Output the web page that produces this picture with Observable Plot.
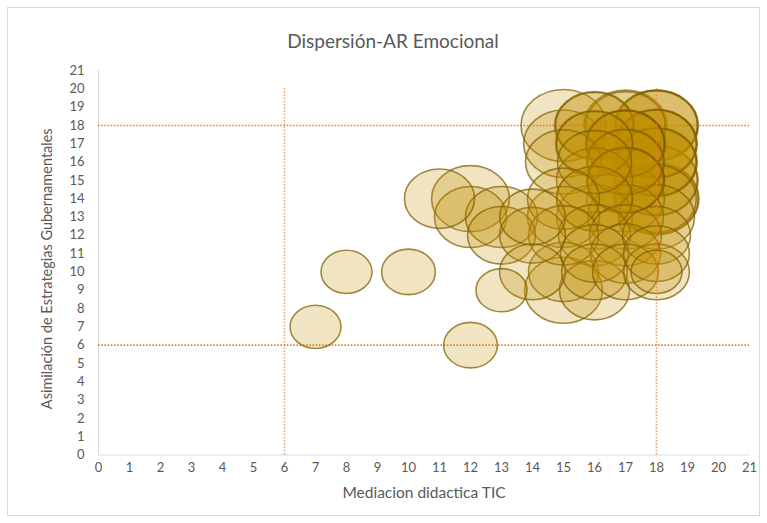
<!DOCTYPE html>
<html>
<head>
<meta charset="utf-8">
<script src="https://cdn.jsdelivr.net/npm/d3@7"></script>
<script src="https://cdn.jsdelivr.net/npm/@observablehq/plot@0.6"></script>
<style>
  html, body { margin: 0; padding: 0; background: #fff; }
  #wrap { position: relative; width: 767px; height: 523px; overflow: hidden; }
  #frame { position: absolute; left: 7px; top: 7px; width: 753px; height: 509px; border: 1px solid #d9d9d9; box-sizing: border-box; }
  #chart { position: absolute; left: 0; top: 0; }
</style>
</head>
<body>
<div id="wrap"><div id="frame"></div><div id="chart"></div></div>
<script>
// ---- data ----
const title = "Dispersión-AR Emocional";
const xTitle = "Mediacion didactica TIC";
const yTitle = "Asimilación de Estrategias Gubernamentales";
const xTicks = d3.range(0, 22);
const yTicks = d3.range(0, 22);

// bubble centres (Mediacion didactica TIC, Asimilación ...) and bubble sizes
const bubbleX = [7, 8, 10, 12, 13,
  11, 12, 12, 13, 13, 14, 14,
  14, 15, 15, 16, 16,
  15, 15, 15,
  15, 15, 15,
  16, 16, 16, 16,
  17, 17, 17,
  18, 18, 18, 18, 18,
  16, 17, 18, 16, 17, 18, 17, 18, 18, 18, 17, 17, 16, 17,
  16, 17, 18, 16, 17, 18, 16, 17, 18, 18, 17, 18, 16, 18, 17, 18,
  17, 18, 17, 18];
const bubbleY = [7, 10, 10, 6, 9,
  14, 14, 13, 13, 12, 12, 13,
  10, 9, 10, 9, 10,
  18, 17, 16,
  13, 12, 14,
  14, 13, 12, 11,
  11, 12, 10,
  10, 10, 11, 12, 13,
  18, 18, 18, 17, 17, 17, 16, 16, 15, 14, 14, 13, 15, 15,
  18, 18, 18, 17, 17, 17, 16, 16, 16, 15, 15, 14, 14, 14, 17, 18,
  17, 16, 15, 17];
const bubbleSize = [9, 9, 10, 10, 9,
  17, 21, 18, 18, 16, 15, 15,
  15, 21, 17, 17, 15,
  25, 22, 20,
  18, 17, 18,
  20, 20, 18, 16,
  17, 18, 15,
  15, 9, 15, 16, 20,
  22, 24, 24, 21, 22, 22, 20, 22, 24, 25, 21, 20, 20, 21,
  21, 22, 23, 20, 21, 22, 19, 21, 22, 23, 20, 24, 20, 22, 21, 24,
  22, 23, 21, 23];

// reference (dotted) lines
const hLineY = [18, 6];
const hLineFrom = [0, 0];
const hLineTo = [21, 21];
const vLineX = [6, 18];
const vLineFrom = [0, 0];
const vLineTo = [20, 20];

const bubbles = bubbleX.map((x, i) => ({x, y: bubbleY[i], size: bubbleSize[i]}));
const hLines = hLineY.map((y, i) => ({y, x1: hLineFrom[i], x2: hLineTo[i]}));
const vLines = vLineX.map((x, i) => ({x, y1: vLineFrom[i], y2: vLineTo[i]}));

// horizontally stretched bubble (ellipse) symbol
const STRETCH = 1.18, K = 0.5523;
const ellipse = {
  draw(ctx, size) {
    const r = Math.sqrt(size / Math.PI), a = r * STRETCH, b = r;
    ctx.moveTo(a, 0);
    ctx.bezierCurveTo(a, K * b, K * a, b, 0, b);
    ctx.bezierCurveTo(-K * a, b, -a, K * b, -a, 0);
    ctx.bezierCurveTo(-a, -K * b, -K * a, -b, 0, -b);
    ctx.bezierCurveTo(K * a, -b, a, -K * b, a, 0);
    ctx.closePath();
  }
};

const textColor = "#595959";
const dotted = {stroke: "#ED7D31", strokeWidth: 1.6, strokeDasharray: "1.6 1.6"};

const chart = Plot.plot({
  width: 767,
  height: 523,
  marginLeft: 98,
  marginRight: 18,
  marginTop: 70,
  marginBottom: 68.5,
  style: {fontFamily: "Lato, 'Open Sans', sans-serif", color: textColor, background: "transparent"},
  x: {domain: [0, 21]},
  y: {domain: [0, 21]},
  r: {type: "sqrt", domain: [0, 25], range: [0, 36]},
  marks: [
    Plot.ruleY([0], {x1: 0, x2: 21, stroke: "#d9d9d9", strokeWidth: 1}),
    Plot.ruleX([0], {y1: 0, y2: 21, stroke: "#d9d9d9", strokeWidth: 1}),
    Plot.axisX({ticks: xTicks, tickSize: 0, tickPadding: 8, fontSize: 13, label: null, fill: textColor}),
    Plot.axisY({ticks: yTicks, tickSize: 0, tickPadding: 14, fontSize: 13, label: null, fill: textColor}),
    Plot.ruleY(hLines, {y: "y", x1: "x1", x2: "x2", ...dotted}),
    Plot.dot(bubbles, {x: "x", y: "y", r: "size", symbol: ellipse,
      fill: "#BF9000", fillOpacity: 0.24, stroke: "#7F6000", strokeOpacity: 0.72, strokeWidth: 1.6}),
    Plot.ruleX(vLines, {x: "x", y1: "y1", y2: "y2", ...dotted, strokeOpacity: 0.7}),
    Plot.text([title], {frameAnchor: "top", dx: -31, dy: -29, fontSize: 19, fill: textColor, lineAnchor: "middle"}),
    Plot.text([xTitle], {frameAnchor: "bottom", dy: 38.5, fontSize: 15.5, fill: textColor, lineAnchor: "middle"}),
    Plot.text([yTitle], {frameAnchor: "left", dx: -51, dy: 6, rotate: -90, fontSize: 14.5, fill: textColor, textAnchor: "middle", lineAnchor: "middle"})
  ]
});
document.getElementById("chart").appendChild(chart);
</script>
</body>
</html>
